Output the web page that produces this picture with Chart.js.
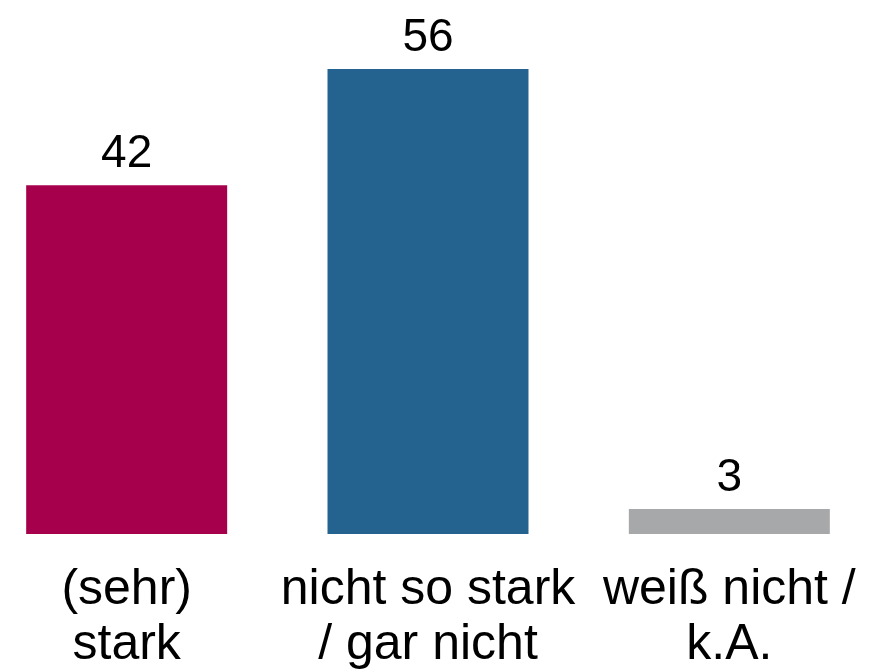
<!DOCTYPE html>
<html>
<head>
<meta charset="utf-8">
<script src="https://cdn.jsdelivr.net/npm/chart.js@4/dist/chart.umd.min.js"></script>
<style>
    html, body { margin: 0; padding: 0; background: #ffffff; overflow: hidden; }
    #wrap { position: absolute; left: -24px; top: 0; width: 904px; height: 670px; }
</style>
</head>
<body>
<div id="wrap"><canvas id="chart"></canvas></div>
<script>
// Data
const categories = [
    ['(sehr)', 'stark'],
    ['nicht so stark', '/ gar nicht'],
    ['weiß nicht /', 'k.A.'],
];
const values = [42, 56, 3];
const barColors = ['#a6004c', '#246390', '#a7a8aa'];

const FONT = "'Liberation Sans', Arial, sans-serif";

// Value labels above each bar
const valueLabels = {
    id: 'valueLabels',
    afterDatasetsDraw(chart) {
        const ctx = chart.ctx;
        const meta = chart.getDatasetMeta(0);
        ctx.save();
        ctx.fillStyle = '#000000';
        ctx.font = '46px ' + FONT;
        ctx.textAlign = 'center';
        ctx.textBaseline = 'alphabetic';
        meta.data.forEach((bar, i) => {
            ctx.fillText(String(values[i]), bar.x, bar.y - 18);
        });
        ctx.restore();
    }
};

new Chart(document.getElementById('chart'), {
    type: 'bar',
    data: {
        labels: categories,
        datasets: [{
            data: values,
            backgroundColor: barColors,
            borderWidth: 0,
            barPercentage: 0.667,
            categoryPercentage: 1.0,
        }]
    },
    options: {
        responsive: true,
        maintainAspectRatio: false,
        animation: false,
        layout: { padding: 0 },
        scales: {
            x: {
                grid: { display: false, drawTicks: false },
                border: { display: false },
                ticks: {
                    color: '#000000',
                    padding: 29,
                    maxRotation: 0,
                    autoSkip: false,
                    font: { family: FONT, size: 50, lineHeight: 1.1 },
                },
                // keep the plot area at the full width and a fixed label band
                afterFit(scale) {
                    scale.height = 136;
                    scale.paddingLeft = 0;
                    scale.paddingRight = 0;
                },
            },
            y: {
                display: false,
                min: 0,
                max: 64.3,
            }
        },
        plugins: {
            legend: { display: false },
            tooltip: { enabled: false },
        },
    },
    plugins: [valueLabels],
});
</script>
</body>
</html>
